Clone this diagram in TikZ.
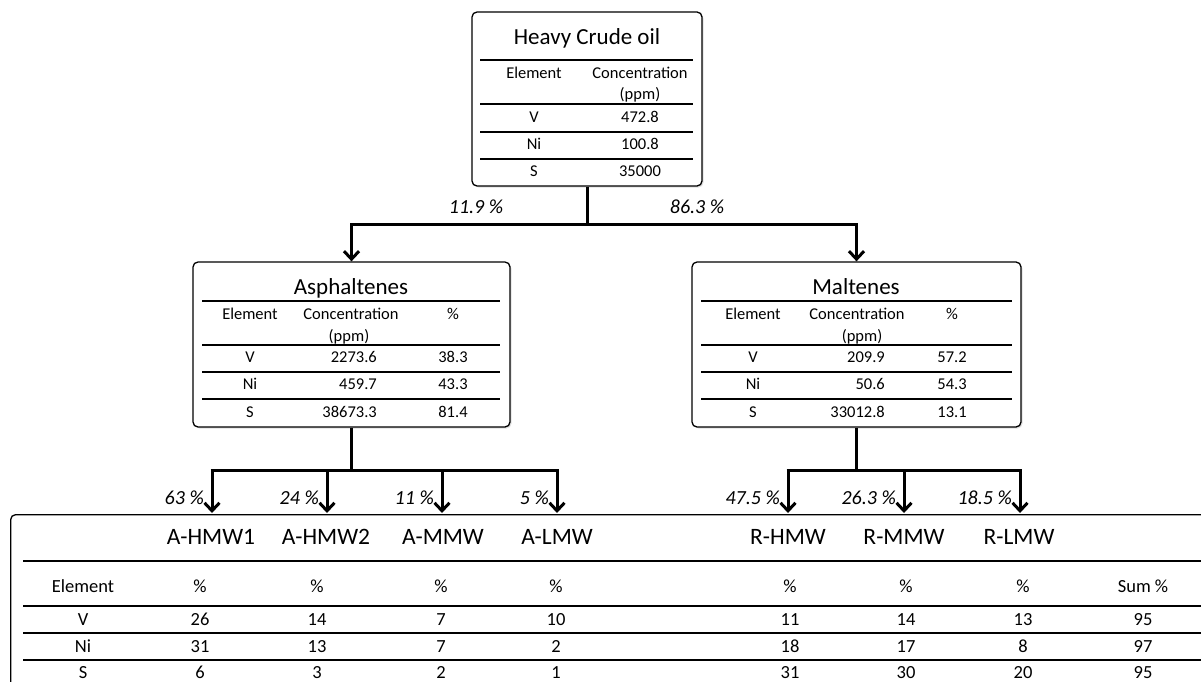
\documentclass[tikz,border=0pt]{standalone}
\usepackage{fontspec}
\setmainfont{Carlito}
\usetikzlibrary{arrows.meta,shadows}
\begin{document}
\begin{tikzpicture}[x=1pt,y=-1pt,
  box/.style={draw=black, line width=1.3pt, rounded corners=5pt, fill=white,
    drop shadow={opacity=0.25, shadow xshift=1.5pt, shadow yshift=-1.5pt}},
  rule/.style={line width=1.2pt},
  conn/.style={line width=3pt},
  arr/.style={line width=3pt, -{Straight Barb[length=8pt,width=15pt]}},
  tx/.style={inner sep=0pt, anchor=base},
  sm/.style={tx, yshift=-5.3pt, font=\fontsize{16.5}{19}\selectfont},
  smr/.style={sm, anchor=base east},
  ttl/.style={tx, yshift=-7.4pt, font=\fontsize{23}{26}\selectfont},
  hdr/.style={tx, yshift=-7.5pt, font=\fontsize{23.5}{26}\selectfont},
  cell/.style={tx, yshift=-5.9pt, font=\fontsize{18.5}{21}\selectfont},
  pct/.style={tx, yshift=-6.4pt, font=\fontsize{20}{22}\selectfont\itshape},
  pcte/.style={pct, anchor=base east}]
\useasboundingbox (0,0) rectangle (1201,682);
\clip (0,0) rectangle (1201,682);

% ---------- Heavy crude oil box
\node[box, minimum width=230pt, minimum height=174pt] (crude) at (587,99) {};
\node[ttl] (crudet) at (587,37) {Heavy Crude oil};
\foreach \y in {60,104,132,159} \draw[rule] (480,\y) -- (693,\y);
\node[sm] (ce) at (534,73) {Element};
\node[sm] (cc) at (640,73) {Concentration};
\node[sm] (cp) at (640,94) {(ppm)};
\node[sm] (cv) at (534,117) {V};
\node[sm] (cvv) at (640,117) {472.8};
\node[sm] (cn) at (534,144) {Ni};
\node[sm] (cnv) at (640,144) {100.8};
\node[sm] (cs) at (534,171) {S};
\node[sm] (csv) at (640,171) {35000};

% ---------- Asphaltenes box
\node[box, minimum width=317pt, minimum height=165pt] (asph) at (351.5,344.5) {};
\node[ttl] (asht) at (351,287) {Asphaltenes};
\foreach \y in {301,345,372,399} \draw[rule] (202,\y) -- (500,\y);
\node[sm] (ae) at (250,314) {Element};
\node[sm] (ac) at (351,314) {Concentration};
\node[sm] (ap) at (349,336) {(ppm)};
\node[sm] (apc) at (453,314) {\%};
\node[sm] (av) at (250,357) {V};
\node[smr] (avv) at (377,357) {2273.6};
\node[sm] (avp) at (453,357) {38.3};
\node[sm] (an) at (250,384) {Ni};
\node[smr] (anv) at (377,384) {459.7};
\node[sm] (anp) at (453,384) {43.3};
\node[sm] (as) at (250,412) {S};
\node[smr] (asv) at (377,412) {38673.3};
\node[sm] (asp) at (453,412) {81.4};

% ---------- Maltenes box
\node[box, minimum width=329pt, minimum height=165pt] (malt) at (856.5,344.5) {};
\node[ttl] (malt t) at (856,287) {Maltenes};
\foreach \y in {301,345,372,399} \draw[rule] (701,\y) -- (1012,\y);
\node[sm] (me) at (753,314) {Element};
\node[sm] (mc) at (857,314) {Concentration};
\node[sm] (mp) at (862,336) {(ppm)};
\node[sm] (mpc) at (952,314) {\%};
\node[sm] (mv) at (753,357) {V};
\node[smr] (mvv) at (885,357) {209.9};
\node[sm] (mvp) at (952,357) {57.2};
\node[sm] (mn) at (753,384) {Ni};
\node[smr] (mnv) at (885,384) {50.6};
\node[sm] (mnp) at (952,384) {54.3};
\node[sm] (ms) at (753,412) {S};
\node[smr] (msv) at (885,412) {33012.8};
\node[sm] (msp) at (952,412) {13.1};

% ---------- first split
\coordinate (j1) at (587,224);
\draw[conn] (crude.south) -- (j1);
\draw[arr] (j1) -| (asph.north);
\draw[arr] (j1) -| (malt.north);
\node[pct] (l1) at (476,207) {11.9 \%};
\node[pct] (l2) at (697,207) {86.3 \%};

% ---------- bottom table box
\node[box, anchor=north west, minimum width=1215pt, minimum height=200pt] (tbl) at (10,514) {};
\foreach \y in {561,606,633,660} \draw[rule] (23,\y) -- (1205,\y);

% ---------- asphaltene split
\coordinate (j2) at (351.5,470);
\coordinate (aL) at (212,470);
\coordinate (aR) at (557,470);
\draw[conn] (asph.south) -- (j2);
\draw[conn] ([xshift=-1.5pt]aL) -- ([xshift=1.5pt]aR);
\foreach \x/\n in {212/1,327/2,442/3,557/4} {
  \coordinate (as\n) at (\x,470);
  \coordinate (at\n) at (\x,513);
  \draw[arr] (as\n) -- (at\n);
}
% ---------- maltene split
\coordinate (j3) at (856.5,470);
\coordinate (mL) at (788,470);
\coordinate (mR) at (1020,470);
\draw[conn] (malt.south) -- (j3);
\draw[conn] ([xshift=-1.5pt]mL) -- ([xshift=1.5pt]mR);
\foreach \x/\n in {788/1,904/2,1020/3} {
  \coordinate (ms\n) at (\x,470);
  \coordinate (mt\n) at (\x,513);
  \draw[arr] (ms\n) -- (mt\n);
}
\node[pcte] (p1) at (204,498) {63 \%};
\node[pcte] (p2) at (319,498) {24 \%};
\node[pcte] (p3) at (434,498) {11 \%};
\node[pcte] (p4) at (549,498) {5 \%};
\node[pcte] (p5) at (780,498) {47.5 \%};
\node[pcte] (p6) at (896,498) {26.3 \%};
\node[pcte] (p7) at (1012,498) {18.5 \%};

% ---------- table contents
\foreach \t/\x [count=\i] in {A-HMW1/211,A-HMW2/326,A-MMW/443,A-LMW/557,R-HMW/788,R-MMW/904,R-LMW/1019}
  \node[hdr] (h\i) at (\x,537) {\t};
\node[cell] (e0) at (83,587) {Element};
\node[cell] (e1) at (83,620) {V};
\node[cell] (e2) at (83,647) {Ni};
\node[cell] (e3) at (83,673) {S};
\foreach \x/\a/\b/\c/\d [count=\i] in {
  200/{\%}/26/31/6,
  317/{\%}/14/13/3,
  441/{\%}/7/7/2,
  556/{\%}/10/2/1,
  790/{\%}/11/18/31,
  906/{\%}/14/17/30,
  1023/{\%}/13/8/20,
  1143/{Sum \%}/95/97/95} {
  \node[cell] (c\i a) at (\x,587) {\a};
  \node[cell] (c\i b) at (\x,620) {\b};
  \node[cell] (c\i c) at (\x,647) {\c};
  \node[cell] (c\i d) at (\x,673) {\d};
}
\end{tikzpicture}
\end{document}
